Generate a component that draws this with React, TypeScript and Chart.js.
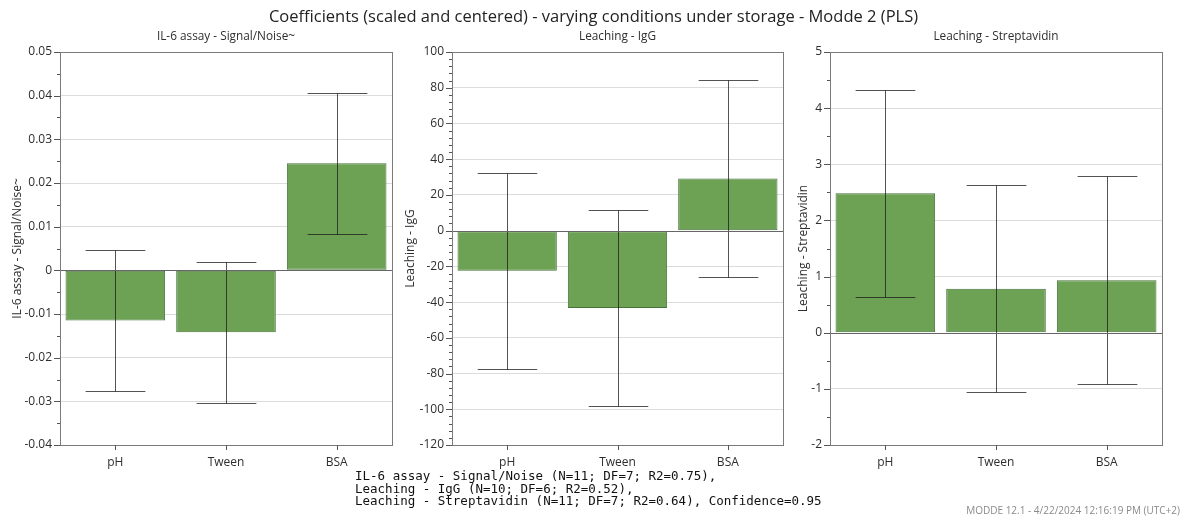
import React, { useEffect, useRef } from "react";
import { Chart, registerables } from "chart.js";

Chart.register(...registerables);

// Model factors shown on every panel
const FACTORS = ["pH", "Tween", "BSA"];

// IL-6 assay - Signal/Noise~ : coefficients and 95% confidence half-widths
const IL6_COEF = [-0.0115, -0.0142, 0.0245];
const IL6_CI = [0.0161, 0.0162, 0.0161];

// Leaching - IgG
const IGG_COEF = [-22.5, -43.3, 29.2];
const IGG_CI = [54.8, 55.0, 55.0];

// Leaching - Streptavidin
const STREP_COEF = [2.485, 0.785, 0.935];
const STREP_CI = [1.84, 1.845, 1.85];

// Axis ranges: [min, max, major step, minor step]
const IL6_AXIS = [-0.04, 0.05, 0.01, 0.005];
const IGG_AXIS = [-120, 100, 20, 4];
const STREP_AXIS = [-2, 5, 1, 0.5];

const MAIN_TITLE =
  "Coefficients (scaled and centered) - varying conditions under storage - Modde 2 (PLS)";
const PANEL_TITLES = ["IL-6 assay - Signal/Noise~", "Leaching - IgG", "Leaching - Streptavidin"];
const FOOTER_LINES = [
  "IL-6 assay - Signal/Noise (N=11; DF=7; R2=0.75),",
  "Leaching - IgG (N=10; DF=6; R2=0.52),",
  "Leaching - Streptavidin (N=11; DF=7; R2=0.64), Confidence=0.95",
];
const STAMP = "MODDE 12.1 - 4/22/2024 12:16:19 PM (UTC+2)";

const UI_FONT = "'Open Sans', 'Noto Sans', sans-serif";
const TEXT = "#2e2e2e";
const BAR_FILL = "#6da254";
const BAR_EDGE = "#46733a";

type Panel = {
  title: string;
  coef: number[];
  ci: number[];
  axis: number[];
  left: number;
  width: number;
  axisWidth: number;
  padRight: number;
  titlePad: number;
};

const PANELS: Panel[] = [
  { title: PANEL_TITLES[0], coef: IL6_COEF, ci: IL6_CI, axis: IL6_AXIS, left: 0, width: 400, axisWidth: 60, padRight: 8, titlePad: 10 },
  { title: PANEL_TITLES[1], coef: IGG_COEF, ci: IGG_CI, axis: IGG_AXIS, left: 400, width: 390, axisWidth: 52, padRight: 7, titlePad: 3 },
  { title: PANEL_TITLES[2], coef: STREP_COEF, ci: STREP_CI, axis: STREP_AXIS, left: 790, width: 397, axisWidth: 40, padRight: 25, titlePad: 6 },
];

const CANVAS_H = 517;

const isMajor = (v: number, major: number) => Math.abs(v / major - Math.round(v / major)) < 1e-6;

// Frame, tick marks and confidence-interval whiskers
const decorPlugin = {
  id: "decor",
  afterDatasetsDraw(chart: any, _args: any, opts: any) {
    const { ctx, chartArea, scales } = chart;
    const { left, right, top, bottom } = chartArea;
    const ys = scales.y;
    const xs = scales.x;
    const major = opts.major as number;
    const ci = opts.ci as number[];
    const coef = opts.coef as number[];
    ctx.save();

    // whiskers
    const meta = chart.getDatasetMeta(0);
    ctx.strokeStyle = "rgba(25,25,25,0.75)";
    ctx.lineWidth = 1;
    meta.data.forEach((bar: any, i: number) => {
      const x = Math.round(bar.x) + 0.5;
      const half = bar.width * 0.3;
      const yHi = Math.round(ys.getPixelForValue(coef[i] + ci[i])) + 0.5;
      const yLo = Math.round(ys.getPixelForValue(coef[i] - ci[i])) + 0.5;
      ctx.beginPath();
      ctx.moveTo(x, yHi);
      ctx.lineTo(x, yLo);
      ctx.moveTo(x - half, yHi);
      ctx.lineTo(x + half, yHi);
      ctx.moveTo(x - half, yLo);
      ctx.lineTo(x + half, yLo);
      ctx.stroke();
    });

    // zero line
    const y0 = Math.round(ys.getPixelForValue(0)) + 0.5;
    ctx.strokeStyle = "#666666";
    ctx.beginPath();
    ctx.moveTo(left, y0);
    ctx.lineTo(right, y0);
    ctx.stroke();

    // frame
    ctx.strokeStyle = "#7a7a7a";
    ctx.strokeRect(Math.round(left) + 0.5, Math.round(top) + 0.5, Math.round(right - left), Math.round(bottom - top));

    // y tick marks
    ctx.strokeStyle = "#555555";
    ctx.beginPath();
    ys.ticks.forEach((t: any) => {
      const y = Math.round(ys.getPixelForValue(t.value)) + 0.5;
      const len = isMajor(t.value, major) ? 6 : 3;
      ctx.moveTo(Math.round(left) - len, y);
      ctx.lineTo(Math.round(left), y);
    });
    // x tick marks
    FACTORS.forEach((_f, i) => {
      const x = Math.round(xs.getPixelForValue(i)) + 0.5;
      ctx.moveTo(x, Math.round(bottom));
      ctx.lineTo(x, Math.round(bottom) + 5);
    });
    ctx.stroke();
    ctx.restore();
  },
};

function PanelChart({ panel }: { panel: Panel }) {
  const ref = useRef<HTMLCanvasElement | null>(null);
  useEffect(() => {
    if (!ref.current) return;
    const [min, max, major, minor] = panel.axis;
    const chart = new Chart(ref.current, {
      type: "bar",
      data: {
        labels: FACTORS,
        datasets: [
          {
            data: panel.coef,
            backgroundColor: BAR_FILL,
            borderColor: BAR_EDGE,
            borderWidth: 1,
            borderSkipped: false,
            barPercentage: 0.9,
            categoryPercentage: 1,
          },
        ],
      },
      options: {
        responsive: false,
        animation: false,
        devicePixelRatio: 1,
        layout: { padding: { top: 52, right: panel.padRight, bottom: 0, left: 0 } },
        plugins: {
          legend: { display: false },
          tooltip: { enabled: false },
          decor: { major, ci: panel.ci, coef: panel.coef },
        } as any,
        scales: {
          x: {
            grid: { display: false, drawTicks: false },
            border: { display: false },
            ticks: { padding: 10, color: TEXT, font: { family: UI_FONT, size: 12 } },
            afterFit: (s: any) => {
              s.height = 72;
            },
          },
          y: {
            min,
            max,
            border: { display: false },
            grid: {
              drawTicks: false,
              lineWidth: 1,
              color: (c: any) => {
                const v = c.tick ? c.tick.value : NaN;
                if (Math.abs(v) < 1e-9) return "rgba(0,0,0,0)";
                return isMajor(v, major) ? "#dcdcdc" : "rgba(0,0,0,0)";
              },
            },
            ticks: {
              stepSize: minor,
              autoSkip: false,
              padding: 8,
              color: TEXT,
              font: { family: UI_FONT, size: 12 },
              callback: (v: any) => {
                const n = Number(v);
                if (!isMajor(n, major)) return "";
                return String(Number(n.toFixed(4)));
              },
            },
            title: {
              display: true,
              text: panel.title,
              color: TEXT,
              font: { family: UI_FONT, size: 12 },
              padding: { top: panel.titlePad, bottom: 0 },
            },
            afterFit: (s: any) => {
              s.width = panel.axisWidth;
            },
          },
        },
      },
      plugins: [decorPlugin],
    } as any);
    return () => chart.destroy();
  }, [panel]);

  return (
    <canvas
      ref={ref}
      width={panel.width}
      height={CANVAS_H}
      style={{ position: "absolute", left: panel.left, top: 0, width: panel.width, height: CANVAS_H }}
    />
  );
}

export default function App() {
  const centers = PANELS.map((p) => {
    const l = p.left + p.axisWidth;
    const r = p.left + p.width - p.padRight;
    return (l + r) / 2;
  });
  return (
    <div
      style={{
        position: "fixed",
        left: 0,
        top: 0,
        width: 1187,
        height: 517,
        background: "#ffffff",
        overflow: "hidden",
        fontFamily: UI_FONT,
      }}
    >
      {PANELS.map((p, i) => (
        <PanelChart key={i} panel={p} />
      ))}
      <div
        style={{
          position: "absolute",
          left: 0,
          width: 1187,
          top: 5,
          textAlign: "center",
          fontSize: 16.5,
          lineHeight: "22px",
          color: "#222",
          whiteSpace: "nowrap",
        }}
      >
        {MAIN_TITLE}
      </div>
      {PANELS.map((p, i) => (
        <div
          key={"t" + i}
          style={{
            position: "absolute",
            left: centers[i] - 150,
            width: 300,
            top: 27,
            textAlign: "center",
            fontSize: 11.8,
            lineHeight: "16px",
            color: TEXT,
            whiteSpace: "nowrap",
          }}
        >
          {p.title}
        </div>
      ))}
      <div
        style={{
          position: "absolute",
          left: 355,
          top: 470,
          fontFamily: "'DejaVu Sans Mono', 'Liberation Mono', monospace",
          fontSize: 12.5,
          lineHeight: "12.6px",
          color: "#111",
          whiteSpace: "pre",
        }}
      >
        {FOOTER_LINES.join("\n")}
      </div>
      <div
        style={{
          position: "absolute",
          right: 7,
          top: 503,
          fontSize: 10,
          lineHeight: "14px",
          color: "#8a8a8a",
          whiteSpace: "nowrap",
        }}
      >
        {STAMP}
      </div>
    </div>
  );
}
